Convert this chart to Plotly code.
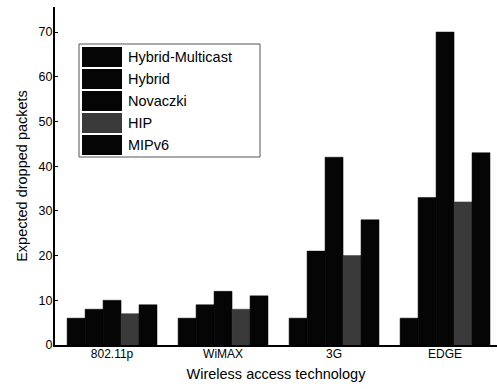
import plotly.graph_objects as go

categories = ["802.11p", "WiMAX", "3G", "EDGE"]
series_names = ["Hybrid-Multicast", "Hybrid", "Novaczki", "HIP", "MIPv6"]
hybrid_multicast = [6, 6, 6, 6]
hybrid = [8, 9, 21, 33]
novaczki = [10, 12, 42, 70]
hip = [7, 8, 20, 32]
mipv6 = [9, 11, 28, 43]
y_ticks = [0, 10, 20, 30, 40, 50, 60, 70]

series_values = [hybrid_multicast, hybrid, novaczki, hip, mipv6]
colors = ["#050505", "#050505", "#050505", "#3a3a3a", "#050505"]

W, H = 497, 389
ML, MR, MT, MB = 55, 0, 7, 44
PW, PH = W - ML - MR, H - MT - MB

fig = go.Figure()
for name, vals, col in zip(series_names, series_values, colors):
    fig.add_trace(go.Bar(x=list(range(len(categories))), y=vals, name=name,
                         marker=dict(color=col, line=dict(width=0.5, color=col)), showlegend=False))

def px_x(p):
    return (p - ML) / PW

def px_y(p):
    return (H - MB - p) / PH

shapes = []
annotations = []
# legend box
shapes.append(dict(type="rect", xref="paper", yref="paper",
                   x0=px_x(79), x1=px_x(260), y0=px_y(157), y1=px_y(44),
                   line=dict(color="#555555", width=1), fillcolor="white"))
row_h = 22
top = 46
for i, (name, col) in enumerate(zip(series_names, colors)):
    y0 = top + i * row_h
    shapes.append(dict(type="rect", xref="paper", yref="paper",
                       x0=px_x(82), x1=px_x(122), y0=px_y(y0 + row_h - 1), y1=px_y(y0 + 1),
                       line=dict(width=0), fillcolor=col))
    annotations.append(dict(xref="paper", yref="paper", x=px_x(126), y=px_y(y0 + row_h / 2),
                            text=name, showarrow=False, xanchor="left", yanchor="middle",
                            font=dict(size=14.5, color="black", family="Liberation Sans, Arial")))

fig.update_layout(
    width=W, height=H,
    margin=dict(l=ML, r=MR, t=MT, b=MB),
    paper_bgcolor="white", plot_bgcolor="white",
    barmode="group", bargap=0.19, bargroupgap=0,
    font=dict(family="Liberation Sans, Arial", color="black"),
    shapes=shapes, annotations=annotations,
    xaxis=dict(range=[-0.514, 3.468], tickmode="array", tickvals=list(range(len(categories))),
               ticktext=categories, showline=True, linecolor="black", linewidth=2,
               showgrid=False, zeroline=False, ticks="", tickfont=dict(size=12),
               ticklabelstandoff=-3,
               title=dict(text="Wireless access technology", font=dict(size=14.5), standoff=8)),
    yaxis=dict(range=[0, 75.6], tickvals=y_ticks, showline=True, linecolor="black", linewidth=2,
               showgrid=False, zeroline=False, ticks="inside", ticklen=3, tickcolor="black",
               tickfont=dict(size=12.5), ticklabelstandoff=-2,
               title=dict(text="Expected dropped packets", font=dict(size=14.5), standoff=8)),
)

fig.write_html("out.html")
